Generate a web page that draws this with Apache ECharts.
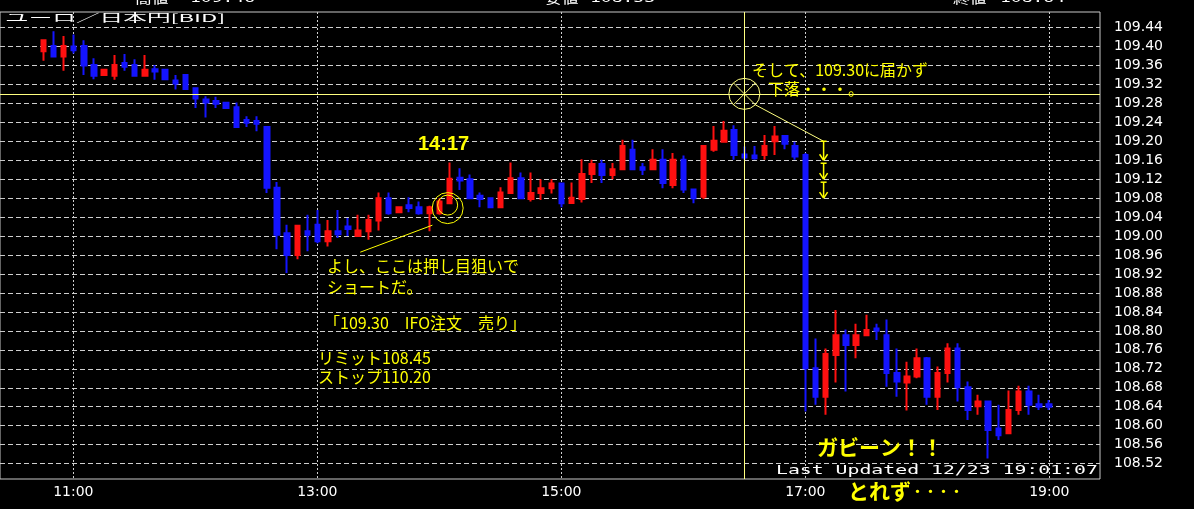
<!DOCTYPE html>
<html><head><meta charset="utf-8">
<script src="https://cdn.jsdelivr.net/npm/echarts@6/dist/echarts.min.js"></script>
<style>html,body{margin:0;padding:0;background:#000}#c{width:1194px;height:509px}</style>
</head><body><div id="c"></div>
<script>
// ---- data ----
const TIMES = ['10:45','10:50','10:55','11:00','11:05','11:10','11:15','11:20','11:25','11:30','11:35','11:40','11:45','11:50','11:55',
'12:00','12:05','12:10','12:15','12:20','12:25','12:30','12:35','12:40','12:45','12:50','12:55',
'13:00','13:05','13:10','13:15','13:20','13:25','13:30','13:35','13:40','13:45','13:50','13:55',
'14:00','14:05','14:10','14:15','14:20','14:25','14:30','14:35','14:40','14:45','14:50','14:55',
'15:00','15:05','15:10','15:15','15:20','15:25','15:30','15:35','15:40','15:45','15:50','15:55',
'16:00','16:05','16:10','16:15','16:20','16:25','16:30','16:35','16:40','16:45','16:50','16:55',
'17:00','17:05','17:10','17:15','17:20','17:25','17:30','17:35','17:40','17:45','17:50','17:55',
'18:00','18:05','18:10','18:15','18:20','18:25','18:30','18:35','18:40','18:45','18:50','18:55','19:00'];
const OPEN = [109.390,109.401,109.379,109.400,109.401,109.361,109.340,109.338,109.365,109.361,109.338,109.352,109.351,109.328,109.340,
109.312,109.288,109.285,109.281,109.272,109.245,109.243,109.230,109.102,109.006,108.960,109.010,
109.024,108.989,109.010,109.020,109.000,109.010,109.033,109.080,109.050,109.065,109.061,109.048,
109.048,109.069,109.123,109.120,109.085,109.080,109.061,109.091,109.122,109.078,109.091,109.101,
109.111,109.070,109.078,109.131,109.152,109.129,109.141,109.182,109.145,109.141,109.161,109.108,
109.161,109.098,109.083,109.182,109.199,109.224,109.172,109.170,109.171,109.200,109.211,109.190,
109.171,108.721,108.661,108.749,108.791,108.770,108.791,108.805,108.791,108.711,108.691,108.704,
108.742,108.661,108.711,108.763,108.681,108.641,108.651,108.594,108.584,108.633,108.672,108.645,108.645];
const CLOSE = [109.413,109.379,109.401,109.392,109.360,109.338,109.351,109.361,109.357,109.338,109.351,109.347,109.331,109.322,109.310,
109.290,109.282,109.279,109.270,109.230,109.239,109.237,109.102,109.003,108.960,109.022,109.003,
108.989,109.010,109.004,109.015,109.012,109.034,109.080,109.048,109.061,109.059,109.048,109.061,
109.073,109.121,109.117,109.080,109.078,109.061,109.092,109.122,109.080,109.091,109.101,109.111,
109.069,109.081,109.131,109.152,109.129,109.141,109.190,109.141,109.140,109.161,109.112,109.161,
109.098,109.080,109.190,109.201,109.222,109.171,109.166,109.164,109.190,109.210,109.195,109.168,
108.721,108.661,108.751,108.791,108.770,108.791,108.802,108.800,108.711,108.693,108.704,108.742,
108.661,108.711,108.763,108.681,108.633,108.651,108.591,108.580,108.633,108.672,108.644,108.640,108.640];
const LOW = [109.370,109.378,109.349,109.385,109.340,109.331,109.339,109.330,109.349,109.336,109.337,109.330,109.329,109.309,109.308,
109.270,109.250,109.270,109.268,109.229,109.230,109.221,109.091,108.972,108.922,108.951,108.968,
108.985,108.978,108.996,109.000,108.999,108.992,109.012,109.045,109.049,109.050,109.045,109.010,
109.045,109.067,109.097,109.078,109.061,109.060,109.060,109.089,109.078,109.073,109.076,109.090,
109.061,109.068,109.071,109.112,109.112,109.120,109.139,109.139,109.129,109.139,109.101,109.101,
109.091,109.069,109.078,109.178,109.197,109.161,109.161,109.161,109.161,109.171,109.183,109.161,
108.630,108.644,108.623,108.691,108.672,108.742,108.789,108.781,108.682,108.661,108.632,108.700,
108.644,108.633,108.691,108.651,108.612,108.623,108.531,108.570,108.582,108.623,108.623,108.633,108.633];
const HIGH = [109.415,109.432,109.422,109.425,109.413,109.375,109.352,109.382,109.384,109.373,109.382,109.361,109.353,109.340,109.341,
109.314,109.295,109.294,109.283,109.282,109.253,109.253,109.232,109.114,109.024,109.024,109.045,
109.055,109.034,109.055,109.038,109.045,109.045,109.092,109.092,109.062,109.082,109.073,109.064,
109.080,109.155,109.143,109.130,109.092,109.082,109.103,109.155,109.134,109.134,109.120,109.120,
109.113,109.113,109.162,109.161,109.161,109.154,109.203,109.203,109.154,109.183,109.183,109.175,
109.170,109.100,109.192,109.232,109.243,109.234,109.189,109.190,109.213,109.232,109.213,109.199,
109.175,108.784,108.763,108.844,108.803,108.815,108.834,108.815,108.824,108.763,108.735,108.763,
108.745,108.725,108.774,108.774,108.693,108.665,108.653,108.644,108.674,108.684,108.684,108.665,108.654];

const Y_TICK_MIN = 108.52, Y_TICK_MAX = 109.44, Y_TICK_STEP = 0.04;
const X_TICK_LABELS = ['11:00','13:00','15:00','17:00','19:00'];
const ENTRY_PRICE = 109.30;      // horizontal crosshair
const CROSS_INDEX = 69;          // vertical crosshair (16:30 bar)
const ARROW_LEVELS = [109.20, 109.16, 109.12, 109.08];
const HEADER = [['高値','109.46'],['安値','108.53'],['終値','108.64']];

// ---- layout (pixels) ----
const PLOT_L = -1, PLOT_R = 1100, PLOT_T = 12, PLOT_B = 479;
const Y_TOP_TICK_PX = 27.5, Y_BOT_TICK_PX = 463.6;
const FIRST_PX = 42.3, STEP_PX = 10.17;
const X_TICK0_PX = 73.3, X_TICKN_PX = 1049.3;

const pxPerVal = (Y_BOT_TICK_PX - Y_TOP_TICK_PX) / (Y_TICK_MAX - Y_TICK_MIN);
const yMaxA = Y_TICK_MAX + (Y_TOP_TICK_PX - PLOT_T) / pxPerVal;
const yMinA = Y_TICK_MIN - (PLOT_B - Y_BOT_TICK_PX) / pxPerVal;
const xMinA = -(FIRST_PX - PLOT_L) / STEP_PX;
const xMaxA = (PLOT_R - FIRST_PX) / STEP_PX;

const candles = TIMES.map((t, i) => [i, OPEN[i], CLOSE[i], LOW[i], HIGH[i]]);

const chart = echarts.init(document.getElementById('c'), null, {renderer: 'canvas'});
const GRIDC = '#cfcfcf';
chart.setOption({
  backgroundColor: '#000',
  animation: false,
  grid: [
    {left: PLOT_L, top: PLOT_T, width: PLOT_R - PLOT_L, height: PLOT_B - PLOT_T, show: true, borderColor: '#c8c8c8', borderWidth: 1, backgroundColor: 'transparent', z: 3},
    {left: X_TICK0_PX, top: PLOT_T, width: X_TICKN_PX - X_TICK0_PX, height: PLOT_B - PLOT_T},
    {left: PLOT_L, top: Y_TOP_TICK_PX, width: PLOT_R - PLOT_L, height: Y_BOT_TICK_PX - Y_TOP_TICK_PX}
  ],
  xAxis: [
    {gridIndex: 0, type: 'value', min: xMinA, max: xMaxA, show: false},
    {gridIndex: 1, type: 'value', min: 0, max: 8, interval: 2,
      axisLine: {show: false}, axisTick: {show: false},
      splitLine: {show: true, lineStyle: {type: [2, 2], color: GRIDC, width: 1}},
      axisLabel: {formatter: v => X_TICK_LABELS[v / 2], color: '#fff', fontFamily: 'DejaVu Sans', fontSize: 14, margin: 6}},
    {gridIndex: 2, type: 'value', min: 0, max: 1, show: false}
  ],
  yAxis: [
    {gridIndex: 0, type: 'value', min: yMinA, max: yMaxA, show: false},
    {gridIndex: 1, type: 'value', min: 0, max: 1, show: false},
    {gridIndex: 2, type: 'value', position: 'right', min: Y_TICK_MIN, max: Y_TICK_MAX, interval: Y_TICK_STEP,
      axisLine: {show: false},
      axisTick: {show: true, length: 5, lineStyle: {color: '#c8c8c8'}},
      splitLine: {show: true, lineStyle: {type: [5, 3], color: GRIDC, width: 1}},
      axisLabel: {formatter: v => v.toFixed(2), color: '#fff', fontFamily: 'DejaVu Sans', fontSize: 14, margin: 14}}
  ],
  series: [{
    type: 'candlestick', xAxisIndex: 0, yAxisIndex: 0,
    encode: {x: 0, y: [1, 2, 3, 4]},
    data: candles,
    barWidth: 5,
    itemStyle: {color: '#ff1010', color0: '#1414ff', borderColor: '#ff1010', borderColor0: '#1414ff', borderWidth: 2},
    markLine: {
      silent: true, symbol: ['none', 'none'], label: {show: false},
      lineStyle: {type: 'solid', color: '#ffff80', width: 1},
      data: [{yAxis: ENTRY_PRICE}, {xAxis: CROSS_INDEX}]
    }
  }]
});

// ---- annotations ----
const P = (i, v) => chart.convertToPixel({xAxisIndex: 0, yAxisIndex: 0}, [i, v]);
const Y = '#ffff00';
const g = [];
function txt(x, y, text, o) {
  o = o || {};
  g.push({type: 'text', x: x, y: y, z: 100, scaleX: o.sx || 1, scaleY: o.sy || 1,
    style: {text: text, fill: o.fill || Y, fontSize: o.size || 16, fontFamily: o.family || 'Noto Sans CJK JP',
      fontWeight: o.weight || 'normal', align: o.align || 'left', verticalAlign: 'middle', rich: o.rich}});
}
function line(a, b, w) {
  g.push({type: 'line', z: 100, shape: {x1: a[0], y1: a[1], x2: b[0], y2: b[1]}, style: {stroke: Y, lineWidth: w || 1}});
}
function circ(c, r) {
  g.push({type: 'circle', z: 100, shape: {cx: c[0], cy: c[1], r: r}, style: {fill: 'none', stroke: Y, lineWidth: 1}});
}

// target circle at 14:05 bar
const tc = P(39.8, 109.059);
circ(tc, 15.5);
circ([tc[0], tc[1] - 3], 10);
line(P(38.3, 109.023), P(31.2, 108.966));

// crosshair circle
const cc = P(CROSS_INDEX, ENTRY_PRICE);
const R = 15.5, d = R * 0.7071;
g.push({type: 'circle', z: 100, shape: {cx: cc[0], cy: cc[1], r: R}, style: {fill: 'none', stroke: '#ffff80', lineWidth: 1}});
g.push({type: 'line', z: 100, shape: {x1: cc[0] - d, y1: cc[1] - d, x2: cc[0] + d, y2: cc[1] + d}, style: {stroke: '#ffff80', lineWidth: 1}});
g.push({type: 'line', z: 100, shape: {x1: cc[0] - d, y1: cc[1] + d, x2: cc[0] + d, y2: cc[1] - d}, style: {stroke: '#ffff80', lineWidth: 1}});
const a0 = P(76.8, ARROW_LEVELS[0]);
g.push({type: 'line', z: 100, shape: {x1: cc[0] + d, y1: cc[1] + d, x2: a0[0], y2: a0[1]}, style: {stroke: '#ffff80', lineWidth: 1}});
for (let k = 0; k < ARROW_LEVELS.length - 1; k++) {
  const s = P(76.8, ARROW_LEVELS[k]), e = P(76.8, ARROW_LEVELS[k + 1]);
  const top = [s[0], s[1] + (k ? 3 : 0)];
  line([top[0] - 3, top[1]], [top[0] + 3, top[1]], 1.5);
  line(top, e, 1.5);
  line([e[0] - 4, e[1] - 6], e, 1.5);
  line([e[0] + 4, e[1] - 6], e, 1.5);
}

// texts
txt(418, 144, '14:17', {size: 20, weight: 'bold', family: 'Liberation Sans'});
txt(327, 266, 'よし、ここは押し目狙いで');
txt(327, 287, 'ショートだ。');
txt(324, 323, '「109.30　IFO注文　売り」');
txt(318, 358, 'リミット108.45');
txt(318, 377, 'ストップ110.20');
txt(752, 70, 'そして、109.30に届かず');
txt(768, 89, '下落・・・。');
txt(817, 447, 'ガビーン！！', {size: 21, weight: 'bold'});
txt(848, 491, '{a|とれず}{b|・・・・}', {size: 21, weight: 'bold', rich: {a: {fontSize: 21, fontWeight: 'bold', fill: Y, fontFamily: 'Noto Sans CJK JP'}, b: {fontSize: 13, fontWeight: 'bold', fill: Y, fontFamily: 'Noto Sans CJK JP'}}});

// white texts
txt(5, 18, 'ユーロ／日本円[BID]', {fill: '#fff', size: 11, sx: 2.15, family: 'Noto Sans CJK JP'});
txt(776, 471, 'Last Updated 12/23 19:01:07', {fill: '#fff', size: 12, sx: 1.65, family: 'DejaVu Sans Mono'});
const HX = [[135, 190], [545, 590], [953, 1000]];
HEADER.forEach((h, i) => {
  txt(HX[i][0], -1, h[0], {fill: '#fff', size: 12, sx: 1.4});
  txt(HX[i][1], -1, h[1], {fill: '#fff', size: 12, sx: 1.5, family: 'DejaVu Sans Mono'});
});

chart.setOption({graphic: {elements: g}});
</script></body></html>
